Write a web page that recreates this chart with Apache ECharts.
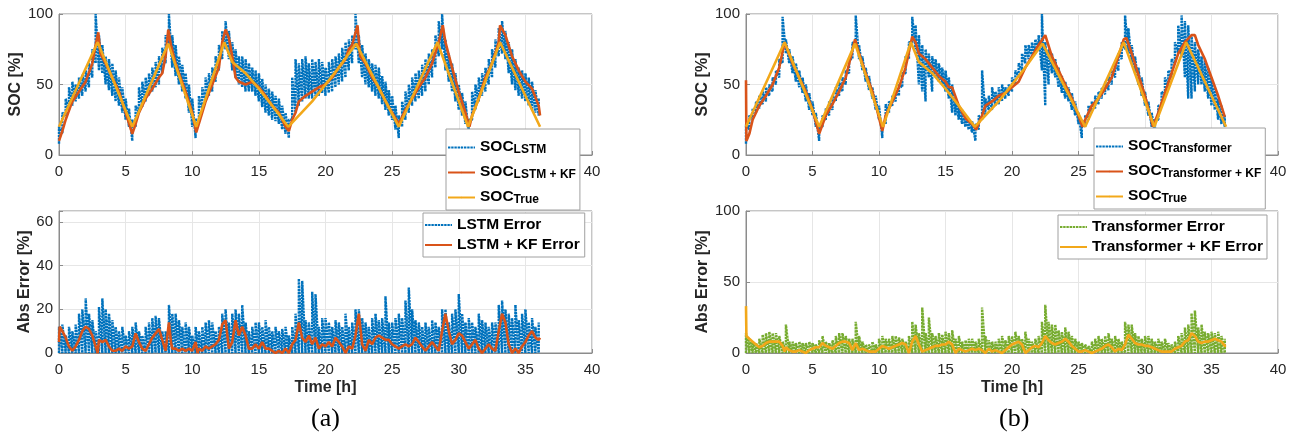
<!DOCTYPE html>
<html><head><meta charset="utf-8">
<script src="https://cdn.jsdelivr.net/npm/echarts@6/dist/echarts.min.js"></script>
<style>html,body{margin:0;padding:0;background:#fff}#c{width:1299px;height:442px}</style>
</head><body><div id="c"></div>
<script>
// ---------------- DATA ----------------
const STEP = 0.25; // hours between samples of the noisy (dotted) series
const captions = ['(a)', '(b)'];
const timeTicks = [0, 5, 10, 15, 20, 25, 30, 35, 40];

// True SOC (both panels) [time h, SOC %]
const socTrue = [[0,20],[2.9,80],[5.5,20],[8.2,79],[10.3,20],[12.4,80],[13,66],[14,58],[15,47],[16,35],[17.2,20],[19,38],[20,50],[21,62],[22.3,79],[25.5,20],[28.4,80],[30.7,20],[33.1,80],[36.1,20]];

// LSTM SOC band (low / high envelope of the noisy estimate)
const lstmLo = [8,15,28,32, 35,38,40,42, 45,48,55,65, 60,58,50,46, 42,38,35,30, 25,20,10,20, 30,34,38,42, 45,48,50,58, 65,78,62,56, 50,45,40,30, 20,12,25,32, 38,42,45,52, 60,68,75,68, 60,55,50,48, 45,45,45,42, 38,34,30,28, 25,24,22,18, 15,12,25,30, 35,38,40,40, 40,42,42,44, 42,44,45,48, 50,52,55,60, 65,75,65,55, 50,48,45,42, 40,36,32,28, 25,18,12,20, 25,30,35,38, 40,42,45,50, 55,62,70,75, 60,52,45,38, 32,28,22,15, 25,32,38,42, 45,50,55,62, 70,72,68,58, 50,46,42,40, 38,35,32,30, 28];
const lstmHi = [20,30,40,48, 52,50,55,57, 60,65,75,100, 85,78,70,68, 65,60,55,48, 40,33,25,35, 48,52,55,58, 62,66,70,76, 85,100,85,78, 70,64,58,50, 40,25,42,48, 55,58,62,70, 78,88,95,88, 80,75,70,70, 68,65,62,60, 58,54,50,47, 45,42,40,35, 30,25,55,68, 65,68,70,65, 68,66,68,66, 62,66,68,70, 72,76,80,82, 85,100,85,78, 72,68,65,64, 62,56,52,46, 42,35,28,38, 45,50,55,58, 60,64,68,72, 75,85,95,100, 82,72,65,58, 50,44,38,25, 45,50,55,58, 62,68,75,82, 90,95,88,80, 75,68,62,60, 58,55,52,46, 40];
// LSTM + KF SOC [time h, SOC %]
const lstmKf = [[0,10],[0.25,17],[0.5,25],[1,38],[1.5,45],[2,52],[2.5,65],[2.75,78],[2.95,87],[3.1,72],[3.5,65],[4,55],[4.5,45],[5,30],[5.5,15],[5.75,22],[6,30],[6.5,40],[7,47],[7.5,55],[7.75,58],[8,70],[8.2,89],[8.4,78],[8.75,65],[9,58],[9.5,45],[10,30],[10.3,16],[10.75,30],[11,38],[11.5,50],[12,62],[12.25,80],[12.5,89],[12.75,83],[13,70],[13.25,55],[13.5,52],[14,50],[14.5,52],[15,48],[15.5,42],[16,35],[16.5,30],[17,20],[17.25,17],[17.5,25],[17.75,30],[18,38],[18.5,42],[19,45],[19.5,48],[20,50],[20.5,55],[21,62],[21.5,68],[21.75,75],[22,78],[22.4,92],[22.6,70],[23,65],[23.5,55],[24,48],[24.5,38],[25,30],[25.5,22],[26,32],[26.5,40],[27,48],[27.5,55],[28,65],[28.5,80],[28.8,92],[29,80],[29.5,62],[30,45],[30.5,30],[30.8,20],[31,28],[31.5,40],[32,55],[32.5,65],[33,80],[33.1,92],[33.5,85],[34,70],[34.5,60],[35,52],[35.5,47],[36,35],[36.1,28]];
// LSTM absolute error (high envelope, dotted) and LSTM + KF error
const lstmErrHi = [12,13,8,12, 10,13,18,20, 25,18,15,10, 21,25,20,18, 15,12,10,12, 8,10,12,14, 10,8,12,14, 16,17,16,10, 10,22,18,18, 15,12,14,12, 8,12,10,12, 14,15,14,10, 12,18,20,14, 18,20,18,22, 14,10,12,14, 14,12,15,12, 10,12,10,11, 12,8,12,18, 34,33,15,14, 28,27,12,16, 16,14,12,15, 14,12,18,12, 14,20,20,16, 14,12,16,18, 15,16,26,14, 14,16,18,16, 24,30,20,15, 14,12,14,12, 15,14,12,20, 20,14,18,20, 27,18,14,16, 14,12,18,15, 14,12,14,14, 22,24,20,18, 16,22,15,18, 20,14,16,12, 14];
const lstmKfErr = [[0,5],[0.05,12],[0.25,10],[0.5,7],[0.75,3],[1,1],[1.25,3],[1.5,6],[1.75,10],[2,12],[2.25,11],[2.5,8],[2.75,3],[2.9,0],[3,6],[3.25,5],[3.5,6],[3.75,3],[4,1],[4.25,1],[4.5,2],[4.75,1],[5,3],[5.25,2],[5.5,3],[5.75,9],[6,5],[6.25,2],[6.5,1],[6.75,4],[7,7],[7.25,9],[7.5,11],[7.75,6],[8,1],[8.25,14],[8.4,5],[8.5,2],[8.75,2],[9,1],[9.25,2],[9.5,1],[9.75,2],[10,1],[10.25,5],[10.4,0],[10.5,2],[10.75,1],[11,3],[11.25,2],[11.5,3],[11.75,4],[12,6],[12.25,13],[12.5,15],[12.75,2],[13,5],[13.25,15],[13.5,8],[13.75,12],[14,8],[14.25,2],[14.5,2],[14.75,4],[15,2],[15.25,5],[15.5,2],[15.75,2],[16,1],[16.25,0],[16.5,1],[16.75,0],[17,2],[17.25,0],[17.5,4],[17.75,6],[18,14],[18.25,7],[18.5,5],[18.75,8],[19,4],[19.25,7],[19.5,2],[19.75,4],[20,3],[20.25,5],[20.5,3],[20.75,7],[21,5],[21.25,3],[21.5,0],[21.75,3],[22,2],[22.25,8],[22.5,18],[22.75,4],[23,1],[23.25,6],[23.5,4],[23.75,7],[24,8],[24.25,7],[24.5,6],[24.75,6],[25,4],[25.25,3],[25.5,2],[25.75,3],[26,4],[26.25,3],[26.5,4],[26.75,7],[27,5],[27.25,3],[27.5,1],[27.75,3],[28,5],[28.25,3],[28.5,1],[28.75,10],[29,18],[29.25,10],[29.5,4],[29.75,6],[30,9],[30.25,8],[30.5,5],[30.75,2],[31,4],[31.25,6],[31.5,2],[31.75,0],[32,2],[32.25,4],[32.5,2],[32.75,1],[33,10],[33.25,18],[33.5,14],[33.75,4],[34,0],[34.25,2],[34.5,0],[34.75,3],[35,5],[35.25,8],[35.5,10],[35.75,7],[36,6],[36.1,7]];

// Transformer SOC band
const tfLo = [8,18,25,30, 33,36,38,42, 45,50,55,65, 72,65,58,52, 48,44,38,32, 28,20,10,20, 25,28,32,38, 42,45,50,58, 68,78,68,60, 52,46,40,32, 25,12,22,30, 35,38,42,48, 58,68,80,75, 50,45,38,55, 45,55,52,50, 45,40,30,28, 25,22,20,18, 16,10,18,25, 28,32,32,35, 36,38,40,42, 45,50,55,60, 65,68,70,72, 75,60,35,50, 58,55,48,44, 40,38,32,28, 22,12,20,25, 30,33,36,40, 43,46,50,55, 60,68,75,72, 65,58,50,42, 35,28,20,15, 25,35,42,48, 55,65,72,70, 55,40,40,45, 50,50,45,40, 35,32,25,22, 20];
const tfHi = [22,28,33,38, 42,45,48,50, 55,60,68,98, 82,75,70,65, 60,55,50,44, 38,30,20,28, 33,38,42,48, 52,55,60,68, 80,99,78,70, 62,56,48,42, 35,22,36,38, 42,46,50,58, 70,80,98,92, 85,78,75,72, 70,68,65,62, 60,55,50,40, 35,32,28,25, 24,22,28,60, 40,42,48,45, 48,50,48,50, 55,60,65,72, 78,78,80,82, 85,100,80,75, 72,68,62,56, 52,48,44,38, 30,25,28,35, 38,42,45,48, 52,56,60,65, 72,80,99,90, 78,70,62,55, 45,38,30,25, 35,45,55,60, 68,80,92,99, 95,92,85,80, 75,70,68,62, 55,48,40,35, 28];
// Transformer + KF SOC
const tfKf = [[0,53],[0.03,10],[0.25,15],[0.5,25],[1,35],[1.5,42],[2,50],[2.5,62],[2.9,80],[3.5,65],[4,55],[4.5,45],[5,32],[5.5,15],[6,28],[6.5,36],[7,45],[7.5,55],[8.2,82],[8.5,72],[9,58],[9.5,45],[10.25,17],[10.5,28],[11,38],[11.5,48],[12,62],[12.5,84],[12.75,80],[13,72],[13.5,68],[14,62],[14.5,56],[15,52],[15.25,48],[15.5,48],[16,35],[16.5,26],[17,22],[17.3,18],[17.75,28],[18,35],[18.5,38],[19,42],[19.5,44],[20,48],[20.5,52],[21,62],[21.5,70],[22,78],[22.5,85],[23,70],[23.5,60],[24,50],[24.5,40],[25,28],[25.3,20],[25.5,25],[26,35],[26.5,40],[27,47],[27.5,55],[28,70],[28.4,82],[28.6,83],[29,72],[29.5,57],[30,42],[30.6,20],[31,30],[31.5,44],[32,58],[32.5,72],[33,80],[33.5,85],[33.75,85],[34,78],[34.5,68],[35,55],[35.5,42],[36,27]];
// Transformer absolute error (high envelope, dotted) and Transformer + KF error
const tfErrHi = [14,10,8,7, 10,13,14,15, 14,14,12,8, 20,8,8,7, 8,7,7,8, 7,6,9,12, 8,7,9,12, 14,14,12,10, 10,22,12,8, 6,6,8,6, 10,12,10,10, 12,12,11,10, 8,12,22,20, 14,32,14,25, 14,12,14,13, 15,14,16,10, 12,8,9,10, 10,8,10,32, 12,9,8,8, 10,12,9,12, 12,15,12,10, 15,10,8,10, 12,22,34,22, 20,20,16,15, 18,15,12,10, 8,7,6,5, 8,10,12,10, 12,14,10,12, 10,8,22,20, 20,14,12,10, 12,12,10,8, 10,8,10,7, 6,8,12,14, 18,20,28,30, 18,20,15,14, 15,14,15,12, 10];
const tfKfErr = [[0,33],[0.03,12],[0.25,10],[0.5,8],[0.75,6],[1,4],[1.25,5],[1.5,7],[1.75,8],[2,8],[2.25,8],[2.5,8],[2.75,5],[2.9,1],[3,4],[3.25,2],[3.5,1],[3.75,1],[4,2],[4.25,1],[4.5,0],[4.75,2],[5,3],[5.25,4],[5.5,4],[5.75,7],[6,5],[6.25,4],[6.5,3],[6.75,5],[7,7],[7.25,8],[7.5,8],[7.75,7],[8,2],[8.25,7],[8.5,2],[8.75,3],[9,2],[9.25,1],[9.5,1],[9.75,1],[10,3],[10.25,5],[10.5,4],[10.75,3],[11,4],[11.25,5],[11.5,6],[11.75,7],[12,6],[12.25,0],[12.5,8],[12.75,12],[13,6],[13.25,1],[13.5,2],[13.75,3],[14,4],[14.25,5],[14.5,5],[14.75,6],[15,6],[15.25,8],[15.5,6],[15.75,0],[16,3],[16.25,2],[16.5,1],[16.75,2],[17,3],[17.25,2],[17.5,3],[17.75,2],[18,0],[18.25,3],[18.5,1],[18.75,2],[19,1],[19.25,0],[19.5,2],[19.75,4],[20,6],[20.25,7],[20.5,8],[20.75,6],[21,0],[21.25,2],[21.5,4],[21.75,5],[22,4],[22.25,7],[22.5,12],[22.75,9],[23,7],[23.25,6],[23.5,7],[23.75,8],[24,10],[24.25,8],[24.5,5],[24.75,3],[25,1],[25.25,1],[25.5,2],[25.75,1],[26,0],[26.25,1],[26.5,2],[26.75,3],[27,5],[27.25,6],[27.5,4],[27.75,1],[28,3],[28.25,2],[28.5,6],[28.75,13],[29,10],[29.25,7],[29.5,6],[29.75,6],[30,5],[30.25,5],[30.5,4],[30.75,3],[31,2],[31.25,1],[31.5,1],[31.75,1],[32,1],[32.25,3],[32.5,4],[32.75,5],[33,8],[33.25,9],[33.5,14],[33.75,12],[34,8],[34.25,7],[34.5,8],[34.75,8],[35,9],[35.25,10],[35.5,9],[35.75,8],[36,5],[36.1,5]];

// ---------------- STYLE ----------------
const C = { blue:'#0072BD', orange:'#D95319', yellow:'#F2A81A', green:'#77AC30', txt:'#262626', box:'#8c8c8c', grid:'#e6e6e6' };
const FONT = 'Liberation Sans, Arial, Helvetica, sans-serif';

// noisy series drawn as a dense zig-zag between the envelopes
function band(lo, hi) {
  const pts = [];
  for (let i = 0; i < hi.length; i++) {
    const t = i * STEP;
    pts.push([t, lo ? lo[i] : 0], [t, hi[i]]);
  }
  return pts;
}

const grids = [
  { left: 59, top: 14, width: 533, height: 141 },
  { left: 59, top: 211, width: 533, height: 142 },
  { left: 746, top: 14, width: 532, height: 141 },
  { left: 746, top: 211, width: 532, height: 142 }
].map(g => Object.assign({ show: true, borderColor: C.box, borderWidth: 1, backgroundColor: 'transparent' }, g));

function xAx(i, withName) {
  return {
    gridIndex: i, type: 'value', min: 0, max: 40, interval: 5,
    axisLine: { show: true, lineStyle: { color: C.box } },
    axisTick: { show: true, inside: true, length: 4, lineStyle: { color: C.box } },
    axisLabel: { color: C.txt, fontSize: 15, fontFamily: FONT, margin: 9 },
    splitLine: { show: true, lineStyle: { color: C.grid, width: 1 } },
    name: withName ? 'Time [h]' : '', nameLocation: 'middle', nameGap: 27,
    nameTextStyle: { color: C.txt, fontSize: 16, fontWeight: 'bold', fontFamily: FONT }
  };
}
function yAx(i, max, interval, name, gap) {
  return {
    gridIndex: i, type: 'value', min: 0, max: max, interval: interval,
    axisLine: { show: true, lineStyle: { color: C.box } },
    axisTick: { show: true, inside: true, length: 4, lineStyle: { color: C.box } },
    axisLabel: { color: C.txt, fontSize: 15, fontFamily: FONT, margin: 6,
      formatter: v => (v % interval === 0 ? String(v) : '') },
    splitLine: { show: true, lineStyle: { color: C.grid, width: 1 } },
    name: name, nameLocation: 'middle', nameGap: gap, nameRotate: 90,
    nameTextStyle: { color: C.txt, fontSize: 16, fontWeight: 'bold', fontFamily: FONT }
  };
}

const dotted = (color) => ({ color: color, width: 2.4, type: [2.4, 0.8] });
function line(name, data, xi, style, z) {
  return { name: name, type: 'line', xAxisIndex: xi, yAxisIndex: xi, data: data,
    showSymbol: false, symbol: 'none', lineStyle: style, itemStyle: { color: style.color },
    z: z, silent: true, animation: false };
}

const rich = {
  m: { fontSize: 15.5, fontWeight: 'bold', fontFamily: FONT, color: '#000', lineHeight: 17, verticalAlign: 'top' },
  s: { fontSize: 12, fontWeight: 'bold', fontFamily: FONT, color: '#000', lineHeight: 13, padding: [11, 0, 0, 0], verticalAlign: 'bottom' },
  n: { fontSize: 15.5, fontWeight: 'bold', fontFamily: FONT, color: '#000', lineHeight: 17 }
};
const subs = { 'SOC_LSTM': 'LSTM', 'SOC_LSTM+KF': 'LSTM + KF', 'SOC_True': 'True',
  'SOC_Transformer': 'Transformer', 'SOC_Transformer+KF': 'Transformer + KF' };
const fmt = (name) => subs[name] ? '{m|SOC}{s|' + subs[name] + '}' : '{n|' + name + '}';
function legend(data, left, top, gap, pad) {
  return { data: data, orient: 'vertical', left: left, top: top, itemWidth: 27, itemHeight: 2,
    itemGap: gap, padding: pad, backgroundColor: '#fff', borderColor: '#a0a0a0', borderWidth: 1,
    borderRadius: 0, selectedMode: false, z: 20, formatter: fmt, textStyle: { rich: rich } };
}

const option = {
  animation: false,
  backgroundColor: '#fff',
  grid: grids,
  xAxis: [xAx(0, false), xAx(1, true), xAx(2, false), xAx(3, true)],
  yAxis: [yAx(0, 100, 50, 'SOC [%]', 31), yAx(1, 65, 20, 'Abs Error [%]', 25), yAx(2, 100, 50, 'SOC [%]', 31), yAx(3, 100, 50, 'Abs Error [%]', 25)],
  legend: [
    legend(['SOC_LSTM', 'SOC_LSTM+KF', 'SOC_True'], 446, 129, 2, [4, 4, 4, 1]),
    legend(['LSTM Error', 'LSTM + KF Error'], 423, 213, 4, [4, 5, 4, 1]),
    legend(['SOC_Transformer', 'SOC_Transformer+KF', 'SOC_True'], 1094, 128, 2, [4, 4, 4, 1]),
    legend(['Transformer Error', 'Transformer + KF Error'], 1058, 215, 4, [4, 4, 4, 1])
  ],
  series: [
    line('SOC_LSTM', band(lstmLo, lstmHi), 0, dotted(C.blue), 2),
    line('SOC_LSTM+KF', lstmKf, 0, { color: C.orange, width: 2.6 }, 3),
    line('SOC_True', socTrue, 0, { color: C.yellow, width: 2.6 }, 4),
    line('LSTM Error', band(null, lstmErrHi), 1, dotted(C.blue), 2),
    line('LSTM + KF Error', lstmKfErr, 1, { color: C.orange, width: 2.6 }, 3),
    line('SOC_Transformer', band(tfLo, tfHi), 2, dotted(C.blue), 2),
    line('SOC_Transformer+KF', tfKf, 2, { color: C.orange, width: 2.6 }, 3),
    line('SOC_True', socTrue, 2, { color: C.yellow, width: 2.6 }, 4),
    line('Transformer Error', band(null, tfErrHi), 3, dotted(C.green), 2),
    line('Transformer + KF Error', tfKfErr, 3, { color: C.yellow, width: 2.6 }, 3)
  ],
  graphic: [
    { type: 'text', top: 406, left: 311, style: { text: captions[0], font: '26px "Liberation Serif", "Times New Roman", serif', fill: '#000' } },
    { type: 'text', top: 406, left: 999, style: { text: captions[1], font: '26px "Liberation Serif", "Times New Roman", serif', fill: '#000' } }
  ]
};
const chart = echarts.init(document.getElementById('c'), null, { renderer: 'canvas' });
chart.setOption(option);
</script></body></html>
